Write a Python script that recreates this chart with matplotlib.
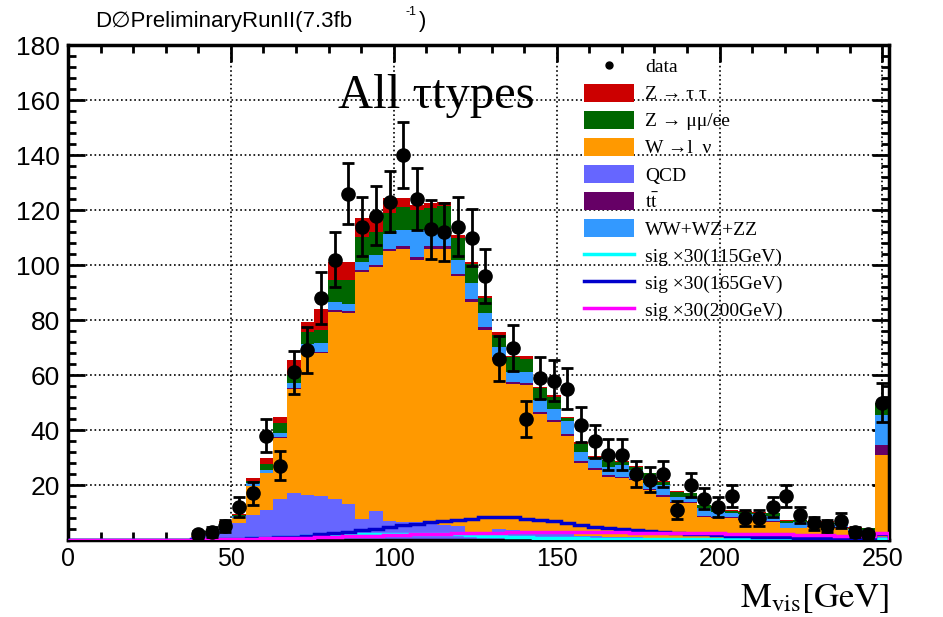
import numpy as np
import matplotlib
matplotlib.use("Agg")
import matplotlib.pyplot as plt
from matplotlib.lines import Line2D
from matplotlib.patches import Patch
from matplotlib.ticker import MultipleLocator

plt.rcParams['font.family'] = ['Liberation Sans', 'DejaVu Sans']
plt.rcParams['mathtext.fontset'] = 'stix'

SERIF = ['Liberation Serif', 'DejaVu Serif']

# 60 bins of 4.2 GeV, last bin holds the overflow
edges = np.linspace(0, 252, 61)
centers = 0.5 * (edges[1:] + edges[:-1])

data = [0, 0, 0, 0, 0, 0, 0, 0, 0, 2, 3, 5, 12, 17, 38, 27, 61, 69, 88, 102,
        126, 114, 118, 123, 140, 124, 113, 112, 114, 110, 96, 66, 70, 44, 59, 58, 55, 42, 36, 31,
        31, 24, 22, 24, 11, 20, 15, 12, 16, 8, 8, 12, 16, 9, 6, 5, 7, 3, 2, 50]

qcd = [0, 0, 0, 0, 0, 0, 0, 0, 0, 1.0, 2.0, 4.0, 6.0, 9.0, 11.0, 15.0, 17.0, 16.5, 16.0, 15.0,
       13.0, 7.5, 10.5, 7.0, 6.5, 6.5, 6.0, 5.5, 5.0, 2.0, 2.0, 4.0, 3.5, 3.0, 2.5, 2.5, 2.0, 1.5, 1.5, 1.2,
       1.0, 1.0, 0.8, 0.8, 0.6, 0.6, 0.5, 0.5, 0.4, 0.4, 0.3, 0.3, 0.3, 0.2, 0.2, 0.2, 0.2, 0.1, 0.1, 1.0]

wlnu = [0, 0, 0, 0, 0, 0, 0, 0, 0, 0.3, 0.7, 2.0, 2.0, 10.6, 13.2, 22.0, 38.0, 51.5, 52.0, 68.0,
        69.5, 90.1, 88.9, 98.0, 99.5, 95.5, 100.0, 100.5, 91.0, 84.7, 74.4, 61.5, 53.2, 53.4, 43.2, 40.5, 35.8, 26.5, 24.0, 21.8,
        21.4, 20.8, 17.4, 15.0, 12.7, 12.7, 8.0, 7.4, 7.6, 6.9, 7.0, 6.4, 3.9, 4.0, 4.6, 4.6, 4.3, 2.9, 2.4, 30.0]

ttbar = [0, 0, 0, 0, 0, 0, 0, 0, 0, 0.0, 0.0, 0.1, 0.1, 0.2, 0.2, 0.3, 0.4, 0.5, 0.5, 0.6,
         0.6, 0.7, 0.7, 0.8, 0.8, 0.9, 0.9, 0.9, 0.9, 0.9, 0.9, 0.9, 0.8, 0.8, 0.8, 0.8, 0.7, 0.7, 0.6, 0.6,
         0.6, 0.5, 0.5, 0.5, 0.4, 0.4, 0.4, 0.4, 0.3, 0.3, 0.3, 0.3, 0.3, 0.2, 0.2, 0.2, 0.2, 0.2, 0.2, 3.5]

diboson = [0, 0, 0, 0, 0, 0, 0, 0, 0, 0.1, 0.2, 0.2, 0.5, 0.9, 1.1, 1.5, 1.6, 2.8, 3.1, 3.1,
           2.9, 2.9, 3.5, 5.5, 5.9, 9.8, 5.8, 5.8, 5.1, 5.7, 5.1, 3.8, 3.7, 3.8, 4.5, 3.9, 4.6, 3.3, 3.2, 3.1,
           4.3, 3.2, 2.0, 3.7, 2.1, 2.1, 2.6, 2.0, 1.4, 1.7, 1.8, 1.7, 1.8, 2.3, 1.2, 1.2, 1.0, 0.8, 1.0, 11.0]

zll = [0, 0, 0, 0, 0, 0, 0, 0, 0, 0.1, 0.2, 0.3, 0.4, 0.8, 2.0, 3.6, 3.0, 4.5, 4.8, 7.8,
       8.5, 9.1, 8.4, 7.5, 8.3, 7.3, 8.0, 8.8, 8.0, 7.1, 5.6, 4.3, 5.3, 5.0, 4.1, 4.3, 1.4, 3.0, 1.0, 2.3,
       1.2, 1.2, 3.5, 1.2, 1.8, 1.2, 1.2, 1.8, 1.0, 1.0, 0.6, 1.0, 0.7, 0.6, 0.5, 0.5, 0.5, 0.5, 0.5, 4.2]

ztautau = [0, 0, 0, 0, 0, 0, 0, 0, 0, 0.1, 0.2, 0.4, 0.5, 0.9, 2.2, 2.4, 5.5, 3.6, 7.6, 6.5,
           6.5, 6.7, 6.0, 5.6, 3.2, 1.8, 1.8, 1.5, 1.0, 0.8, 0.7, 1.3, 0.5, 1.0, 0.7, 0.7, 0.3, 0.5, 0.3, 0.2,
           0.2, 0.2, 0.2, 0.2, 0.2, 0.2, 0.1, 0.1, 0.1, 0.1, 0.1, 0.1, 0.1, 0.1, 0.1, 0.1, 0.1, 0.1, 0.1, 0.3]

sig115 = [0, 0, 0, 0, 0, 0, 0, 0, 0, 0.1, 0.2, 0.3, 0.4, 0.6, 0.8, 1.0, 1.2, 1.4, 1.6, 1.8,
          2.0, 2.1, 2.2, 2.3, 2.3, 2.3, 2.2, 2.1, 2.0, 1.8, 1.6, 1.4, 1.2, 1.0, 0.9, 0.8, 0.7, 0.6, 0.5, 0.4,
          0.4, 0.3, 0.3, 0.2, 0.2, 0.2, 0.2, 0.2, 0.2, 0.2, 0.2, 0.2, 0.2, 0.2, 0.2, 0.2, 0.2, 0.2, 0.2, 0.5]

sig165 = [0, 0, 0, 0, 0, 0, 0, 0, 0, 0.2, 0.3, 0.4, 0.5, 0.6, 0.8, 1.0, 1.2, 1.5, 2.0, 2.5,
          3.0, 3.5, 4.1, 4.8, 5.4, 5.9, 6.4, 6.9, 7.4, 7.8, 8.2, 8.3, 8.2, 7.8, 7.3, 6.8, 6.1, 5.5, 4.9, 4.4,
          3.9, 3.5, 3.1, 2.8, 2.5, 2.2, 2.0, 1.8, 1.6, 1.4, 1.2, 1.1, 1.0, 0.9, 0.8, 0.7, 0.6, 0.6, 0.5, 2.0]

sig200 = [0, 0, 0, 0, 0, 0, 0, 0, 0, 0.1, 0.2, 0.3, 0.4, 0.5, 0.6, 0.7, 0.8, 0.9, 1.0, 1.2,
          1.3, 1.5, 1.6, 1.8, 1.9, 2.1, 2.2, 2.3, 2.4, 2.5, 2.6, 2.7, 2.8, 2.8, 2.9, 2.9, 2.9, 2.9, 2.9, 2.8,
          2.8, 2.7, 2.7, 2.6, 2.6, 2.5, 2.5, 2.4, 2.3, 2.3, 2.2, 2.1, 2.0, 1.9, 1.8, 1.7, 1.6, 1.5, 1.4, 2.5]

# stack from bottom to top
stack = [
    (qcd, '#6666ff', 'QCD'),
    (wlnu, '#ff9900', 'W \u2192l  \u03bd'),
    (ttbar, '#660066', r'$\mathrm{t\bar{t}}$'),
    (diboson, '#3399ff', 'WW+WZ+ZZ'),
    (zll, '#006600', 'Z \u2192 \u03bc\u03bc/ee'),
    (ztautau, '#cc0000', 'Z \u2192 \u03c4 \u03c4'),
]
signals = [
    (sig115, '#00ffff', 'sig \u00d730(115GeV)'),
    (sig165, '#0000cc', 'sig \u00d730(165GeV)'),
    (sig200, '#ff00ff', 'sig \u00d730(200GeV)'),
]

fig = plt.figure(figsize=(9.43, 6.17), dpi=100)
ax = fig.add_axes([0.0721, 0.1248, 0.8706, 0.8022])

# cumulative fills, each one sitting on the previous
base = np.zeros(len(edges) - 1)
for vals, col, lab in stack:
    top = base + np.array(vals)
    ax.stairs(top, edges, baseline=base, fill=True, color=col, lw=0, zorder=2)
    base = top

for vals, col, lab in signals:
    ax.stairs(vals, edges, color=col, lw=2.5, zorder=3)

d = np.array(data, dtype=float)
m = d > 0
ax.errorbar(centers[m], d[m], yerr=np.sqrt(d[m]), fmt='o', color='black',
            markersize=9.5, elinewidth=2, capsize=4, capthick=2, zorder=5)

ax.set_xlim(0, 252)
ax.set_ylim(0, 180)
ax.xaxis.set_major_locator(MultipleLocator(50))
ax.xaxis.set_minor_locator(MultipleLocator(10))
ax.yaxis.set_minor_locator(MultipleLocator(4))
ax.set_yticks([20, 40, 60, 80, 100, 120, 140, 160, 180])
ax.tick_params(which='both', direction='in', top=True, right=True, width=2)
ax.tick_params(which='major', length=12, pad=6)
ax.tick_params(which='minor', length=6)
ax.tick_params(axis='y', labelsize=19)
ax.tick_params(axis='x', labelsize=18, pad=5)
for s in ax.spines.values():
    s.set_linewidth(2.5)

ax.grid(True, which='major', linestyle=':', color='black', linewidth=1.2)
ax.set_axisbelow(True)

ax.text(83, 157, 'All \u03c4types', fontsize=35, family=SERIF)

ax.set_xlabel(r'$\mathrm{M_{vis}[GeV]}$', fontsize=25, loc='right', labelpad=8)

fig.text(95 / 943, 1 - 22 / 617, 'D\u2205PreliminaryRunII(7.3fb', fontsize=16, va='center')
fig.text(405 / 943, 1 - 12 / 617, '-1', fontsize=9, va='center')
fig.text(419 / 943, 1 - 21 / 617, ')', fontsize=16, va='center')

handles = [Line2D([], [], marker='o', color='black', linestyle='none', markersize=5)]
labels = ['data']
for i in [5, 4, 1, 0, 2, 3]:
    vals, col, lab = stack[i]
    handles.append(Patch(facecolor=col, edgecolor='none'))
    labels.append(lab)
for vals, col, lab in signals:
    handles.append(Line2D([], [], color=col, lw=2.5))
    labels.append(lab)

ax.legend(handles, labels, loc='upper left', bbox_to_anchor=(0.614, 1.0), frameon=False,
          prop={'family': SERIF, 'size': 14}, borderaxespad=0.2,
          handlelength=2.6, handleheight=1.05, labelspacing=0.38, handletextpad=0.55)

plt.savefig('out.png', dpi=100)
